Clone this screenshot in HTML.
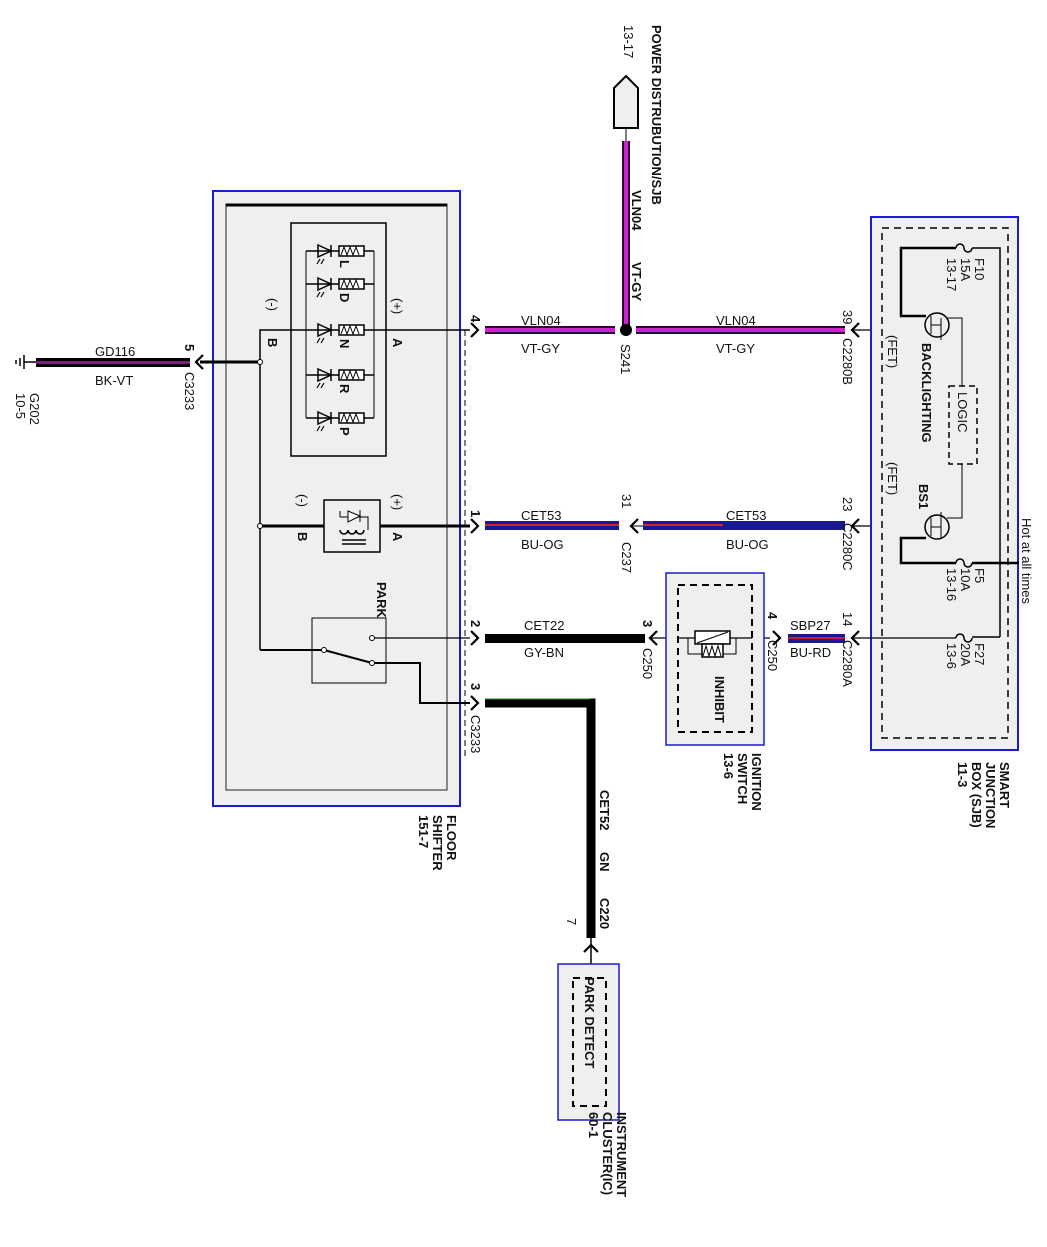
<!DOCTYPE html>
<html><head><meta charset="utf-8"><style>
html,body{margin:0;padding:0;background:#fff}
svg{display:block}
text{font-family:"Liberation Sans",Arial,sans-serif;font-size:13px;fill:#111}
.b{font-weight:bold}
</style></head><body>
<svg width="1047" height="1247" viewBox="0 0 1047 1247" xmlns="http://www.w3.org/2000/svg">
<defs>
<g id="chR"><path d="M-7,-7 L0,0 L-7,7" fill="none" stroke="#000" stroke-width="2.2"/></g>
<g id="chL"><path d="M7,-7 L0,0 L7,7" fill="none" stroke="#000" stroke-width="2.2"/></g>
<g id="row" stroke="#000" fill="none">
<line x1="306" y1="0" x2="374" y2="0" stroke-width="1.5"/>
<path d="M318,-6 L318,6 L331,0 Z" fill="none" stroke-width="1.5"/>
<line x1="331" y1="-6" x2="331" y2="6" stroke-width="1.5"/>
<path d="M320,8 l-3,5 M324,8 l-3,5" stroke-width="1.2"/>
<rect x="339" y="-5" width="25" height="10" fill="#fff" stroke-width="1.5"/>
<path d="M341,4 l3,-8 l3,8 l3,-8 l3,8 l3,-8 l3,8" stroke-width="1"/>
</g>
</defs>

<!-- FLOOR SHIFTER -->
<rect x="213" y="191" width="247" height="615" fill="#efefef" stroke="#1a1ad0" stroke-width="2"/>
<rect x="226" y="204" width="221" height="586" fill="#efefef" stroke="#222" stroke-width="1"/>
<line x1="226" y1="205" x2="447" y2="205" stroke="#000" stroke-width="3"/>
<line x1="465" y1="330" x2="465" y2="760" stroke="#000" stroke-width="1" stroke-dasharray="6,4"/>

<!-- LED box -->
<rect x="291" y="223" width="95" height="233" fill="#efefef" stroke="#000" stroke-width="1.5"/>
<line x1="306" y1="251" x2="306" y2="418" stroke="#000"/>
<line x1="374" y1="251" x2="374" y2="418" stroke="#000"/>
<use href="#row" y="251"/><use href="#row" y="284"/><use href="#row" y="330"/><use href="#row" y="375"/><use href="#row" y="418"/>
<text class="b" transform="translate(340,260) rotate(90)">L</text>
<text class="b" transform="translate(340,293) rotate(90)">D</text>
<text class="b" transform="translate(340,339) rotate(90)">N</text>
<text class="b" transform="translate(340,384) rotate(90)">R</text>
<text class="b" transform="translate(340,427) rotate(90)">P</text>
<text transform="translate(268,298) rotate(90)">(-)</text>
<text class="b" transform="translate(268,338) rotate(90)">B</text>
<text transform="translate(393,298) rotate(90)">(+)</text>
<text class="b" transform="translate(393,338) rotate(90)">A</text>

<!-- internal wires -->
<polyline points="260,650 260,330 306,330" fill="none" stroke="#000" stroke-width="1.5"/>
<line x1="374" y1="330" x2="470" y2="330" stroke="#000" stroke-width="1.5"/>
<line x1="200" y1="362" x2="260" y2="362" stroke="#000" stroke-width="3"/>
<circle cx="260" cy="362" r="2.5" fill="#fff" stroke="#000"/>
<line x1="260" y1="526" x2="470" y2="526" stroke="#000" stroke-width="3"/>
<circle cx="260" cy="526" r="2.5" fill="#fff" stroke="#000"/>
<!-- relay -->
<rect x="324" y="500" width="56" height="52" fill="#efefef" stroke="#000" stroke-width="1.5"/>
<path d="M340,511 L340,517 M340,517 L368,517 L368,530" fill="none" stroke="#000"/>
<path d="M348,511 L348,522 L360,516 Z" fill="#fff" stroke="#000"/>
<line x1="360" y1="510" x2="360" y2="522" stroke="#000"/>
<path d="M340,530 a4,4 0 0 0 8,0 a4,4 0 0 0 8,0 a4,4 0 0 0 8,0" fill="none" stroke="#000" stroke-width="1.5"/>
<line x1="342" y1="540" x2="366" y2="540" stroke="#000" stroke-width="1.5"/><line x1="342" y1="544" x2="366" y2="544" stroke="#000" stroke-width="1.5"/>
<text transform="translate(298,494) rotate(90)">(-)</text>
<text class="b" transform="translate(298,532) rotate(90)">B</text>
<text transform="translate(393,494) rotate(90)">(+)</text>
<text class="b" transform="translate(393,532) rotate(90)">A</text>
<!-- park switch -->
<text class="b" transform="translate(377,582) rotate(90)">PARK</text>
<rect x="312" y="618" width="74" height="65" fill="#efefef" stroke="#000" stroke-width="1"/>
<line x1="372" y1="638" x2="470" y2="638" stroke="#000" stroke-width="1.2"/>
<circle cx="372" cy="638" r="2.5" fill="#fff" stroke="#000"/>
<polyline points="260,650 324,650 372,663" fill="none" stroke="#000" stroke-width="2"/>
<circle cx="324" cy="650" r="2.5" fill="#fff" stroke="#000"/>
<polyline points="372,663 420,663 420,703 470,703" fill="none" stroke="#000" stroke-width="2"/>
<circle cx="372" cy="663" r="2.5" fill="#fff" stroke="#000"/>
<text class="b" transform="translate(447,815) rotate(90)">FLOOR</text>
<text class="b" transform="translate(433,815) rotate(90)">SHIFTER</text>
<text class="b" transform="translate(419,815) rotate(90)">151-7</text>

<!-- ground -->
<line x1="24" y1="362" x2="40" y2="362" stroke="#000" stroke-width="1.5"/>
<line x1="24" y1="355" x2="24" y2="369" stroke="#000" stroke-width="1.5"/>
<line x1="20" y1="358" x2="20" y2="366" stroke="#000" stroke-width="1.5"/>
<line x1="16" y1="360" x2="16" y2="364" stroke="#000" stroke-width="1.5"/>
<rect x="36" y="358" width="154" height="9" fill="#000"/>
<rect x="36" y="361" width="154" height="3" fill="#7b1e7e"/>
<use href="#chL" x="196" y="362"/>
<text transform="translate(30,393) rotate(90)">G202</text>
<text transform="translate(16,393) rotate(90)">10-5</text>
<text transform="translate(95,356)">GD116</text>
<text transform="translate(95,385)">BK-VT</text>
<text class="b" transform="translate(185,344) rotate(90)">5</text>
<text transform="translate(185,372) rotate(90)">C3233</text>

<!-- VLN04 -->
<use href="#chR" x="478" y="330"/>
<rect x="485" y="326" width="130" height="8" fill="#2a0a2a"/>
<rect x="485" y="328" width="130" height="4" fill="#d020d0"/>
<rect x="636" y="326" width="209" height="8" fill="#2a0a2a"/>
<rect x="636" y="328" width="209" height="4" fill="#d020d0"/>
<rect x="622" y="141" width="8" height="185" fill="#2a0a2a"/>
<rect x="624" y="141" width="4" height="185" fill="#d020d0"/>
<line x1="626" y1="128" x2="626" y2="141" stroke="#000"/>
<circle cx="626" cy="330" r="6" fill="#000"/>
<path d="M614,88 L626,76 L638,88 L638,128 L614,128 Z" fill="#efefef" stroke="#000" stroke-width="2"/>
<text class="b" transform="translate(652,25) rotate(90)">POWER DISTRUBUTION/SJB</text>
<text transform="translate(624,25) rotate(90)">13-17</text>
<text class="b" transform="translate(632,190) rotate(90)">VLN04</text>
<text class="b" transform="translate(632,262) rotate(90)">VT-GY</text>
<text transform="translate(621,344) rotate(90)">S241</text>
<text class="b" transform="translate(471,315) rotate(90)">4</text>
<text transform="translate(521,325)">VLN04</text>
<text transform="translate(521,353)">VT-GY</text>
<text transform="translate(716,325)">VLN04</text>
<text transform="translate(716,353)">VT-GY</text>
<use href="#chL" x="852" y="330"/>
<line x1="852" y1="330" x2="925" y2="330" stroke="#000" stroke-width="1.2"/>
<text transform="translate(843,310) rotate(90)">39</text>
<text transform="translate(843,338) rotate(90)">C2280B</text>

<!-- CET53 -->
<use href="#chR" x="478" y="526"/>
<rect x="485" y="521" width="134" height="9" fill="#1a1a90"/>
<rect x="485" y="524" width="134" height="2" fill="#e02020"/>
<use href="#chL" x="631" y="526"/>
<line x1="631" y1="526" x2="643" y2="526" stroke="#000"/>
<rect x="643" y="521" width="202" height="9" fill="#1a1a90"/>
<rect x="643" y="524" width="80" height="2" fill="#e02020"/>
<text class="b" transform="translate(471,510) rotate(90)">1</text>
<text transform="translate(521,520)">CET53</text>
<text transform="translate(521,549)">BU-OG</text>
<text transform="translate(622,494) rotate(90)">31</text>
<text transform="translate(622,542) rotate(90)">C237</text>
<text transform="translate(726,520)">CET53</text>
<text transform="translate(726,549)">BU-OG</text>
<use href="#chL" x="852" y="526"/>
<line x1="852" y1="526" x2="925" y2="526" stroke="#000" stroke-width="1.2"/>
<text transform="translate(843,497) rotate(90)">23</text>
<text transform="translate(843,523) rotate(90)">C2280C</text>

<!-- CET22 -->
<use href="#chR" x="478" y="638"/>
<rect x="485" y="634" width="160" height="9" fill="#000"/>
<use href="#chL" x="650" y="638"/>
<line x1="650" y1="638" x2="770" y2="638" stroke="#000" stroke-width="1.2"/>
<text class="b" transform="translate(471,620) rotate(90)">2</text>
<text transform="translate(524,630)">CET22</text>
<text transform="translate(524,657)">GY-BN</text>
<text class="b" transform="translate(643,620) rotate(90)">3</text>
<text transform="translate(643,648) rotate(90)">C250</text>
<!-- ignition -->
<rect x="666" y="573" width="98" height="172" fill="#efefef" stroke="#1a1ad0" stroke-width="1.5"/>
<rect x="678" y="585" width="74" height="147" fill="none" stroke="#000" stroke-width="2" stroke-dasharray="7,5"/>
<line x1="678" y1="638" x2="752" y2="638" stroke="#000" stroke-width="1.2"/>
<rect x="695" y="631" width="35" height="13" fill="#fff" stroke="#000" stroke-width="1.5"/>
<line x1="697" y1="643" x2="728" y2="632" stroke="#000"/>
<rect x="702" y="644" width="21" height="13" fill="#fff" stroke="#000" stroke-width="1.5"/>
<path d="M703,656 l3,-10 l3,10 l3,-10 l3,10 l3,-10 l3,10" fill="none" stroke="#000"/>
<polyline points="688,638 688,654 702,654" fill="none" stroke="#000"/>
<polyline points="736,638 736,654 723,654" fill="none" stroke="#000"/>
<text class="b" transform="translate(715,676) rotate(90)">INHIBIT</text>
<text class="b" transform="translate(752,753) rotate(90)">IGNITION</text>
<text class="b" transform="translate(738,753) rotate(90)">SWITCH</text>
<text class="b" transform="translate(724,753) rotate(90)">13-6</text>
<use href="#chR" x="780" y="638"/>
<text class="b" transform="translate(768,612) rotate(90)">4</text>
<text transform="translate(768,640) rotate(90)">C250</text>
<rect x="788" y="634" width="57" height="9" fill="#1a1a90"/>
<rect x="788" y="637" width="57" height="2" fill="#c02020"/>
<text transform="translate(790,630)">SBP27</text>
<text transform="translate(790,657)">BU-RD</text>
<use href="#chL" x="852" y="638"/>
<text transform="translate(843,612) rotate(90)">14</text>
<text transform="translate(843,640) rotate(90)">C2280A</text>

<!-- CET52 -->
<use href="#chR" x="478" y="703"/>
<text class="b" transform="translate(471,683) rotate(90)">3</text>
<text transform="translate(471,715) rotate(90)">C3233</text>
<polyline points="485,703 591,703 591,938" fill="none" stroke="#000" stroke-width="9"/>
<line x1="485" y1="699" x2="590" y2="699" stroke="#2a8a2a" stroke-width="1"/>
<text class="b" transform="translate(600,790) rotate(90)">CET52</text>
<text class="b" transform="translate(600,852) rotate(90)">GN</text>
<text class="b" transform="translate(600,898) rotate(90)">C220</text>
<text transform="translate(567,918) rotate(90)">7</text>
<path d="M584,952 L591,945 L598,952" fill="none" stroke="#000" stroke-width="2.2"/>
<line x1="591" y1="938" x2="591" y2="984" stroke="#000" stroke-width="1.5"/>
<rect x="558" y="964" width="61" height="156" fill="#efefef" stroke="#1a1ad0" stroke-width="1.5"/>
<rect x="573" y="978" width="33" height="128" fill="none" stroke="#000" stroke-width="2" stroke-dasharray="7,5"/>
<text class="b" transform="translate(585,977) rotate(90)">PARK DETECT</text>
<text class="b" transform="translate(617,1112) rotate(90)">INSTRUMENT</text>
<text class="b" transform="translate(603,1112) rotate(90)">CLUSTER(IC)</text>
<text class="b" transform="translate(589,1112) rotate(90)">60-1</text>

<!-- SJB -->
<rect x="871" y="217" width="147" height="533" fill="#efefef" stroke="#1a1ad0" stroke-width="2"/>
<rect x="882" y="228" width="126" height="510" fill="none" stroke="#000" stroke-width="1.5" stroke-dasharray="7,5"/>
<g fill="none" stroke="#000">
<polyline points="1000,637 1000,248 972,248" stroke-width="1.5"/>
<path d="M972,248 a4,4 0 0 1 -8,0 a4,4 0 0 0 -8,0" stroke-width="1.5"/>
<polyline points="956,248 901,248 901,316 926,316" stroke-width="2.5"/>
<circle cx="937" cy="325" r="12" fill="#efefef" stroke-width="1.5"/>
<line x1="931" y1="316" x2="931" y2="334"/><line x1="931" y1="325" x2="941" y2="325"/><line x1="941" y1="318" x2="941" y2="340"/>
<polyline points="947,318 962,318 962,386"/>
<rect x="949" y="386" width="28" height="78" stroke-width="1.5" stroke-dasharray="6,4"/>
<polyline points="962,464 962,518 947,518"/>
<circle cx="937" cy="527" r="12" fill="#efefef" stroke-width="1.5"/>
<line x1="931" y1="518" x2="931" y2="536"/><line x1="931" y1="527" x2="941" y2="527"/><line x1="941" y1="512" x2="941" y2="538"/>
<polyline points="926,538 901,538 901,563 956,563" stroke-width="2.5"/>
<path d="M956,563 a4,4 0 0 1 8,0 a4,4 0 0 0 8,0" stroke-width="1.5"/>
<line x1="972" y1="563" x2="1019" y2="563" stroke-width="2.5"/>
<line x1="852" y1="638" x2="956" y2="638" stroke-width="1.2"/>
<path d="M956,638 a4,4 0 0 1 8,0 a4,4 0 0 0 8,0" stroke-width="1.5"/>
<line x1="972" y1="637" x2="1000" y2="637" stroke-width="1.5"/>
</g>
<text transform="translate(975,258) rotate(90)">F10</text>
<text transform="translate(961,258) rotate(90)">15A</text>
<text transform="translate(947,258) rotate(90)">13-17</text>
<text transform="translate(888,335) rotate(90)">(FET)</text>
<text class="b" transform="translate(922,343) rotate(90)">BACKLIGHTING</text>
<text transform="translate(958,392) rotate(90)">LOGIC</text>
<text transform="translate(888,462) rotate(90)">(FET)</text>
<text class="b" transform="translate(919,484) rotate(90)">BS1</text>
<text transform="translate(1022,518) rotate(90)">Hot at all times</text>
<text transform="translate(975,568) rotate(90)">F5</text>
<text transform="translate(961,568) rotate(90)">10A</text>
<text transform="translate(947,568) rotate(90)">13-16</text>
<text transform="translate(975,643) rotate(90)">F27</text>
<text transform="translate(961,643) rotate(90)">20A</text>
<text transform="translate(947,643) rotate(90)">13-6</text>
<text class="b" transform="translate(1000,762) rotate(90)">SMART</text>
<text class="b" transform="translate(986,762) rotate(90)">JUNCTION</text>
<text class="b" transform="translate(972,762) rotate(90)">BOX (SJB)</text>
<text class="b" transform="translate(958,762) rotate(90)">11-3</text>
</svg>
</body></html>
